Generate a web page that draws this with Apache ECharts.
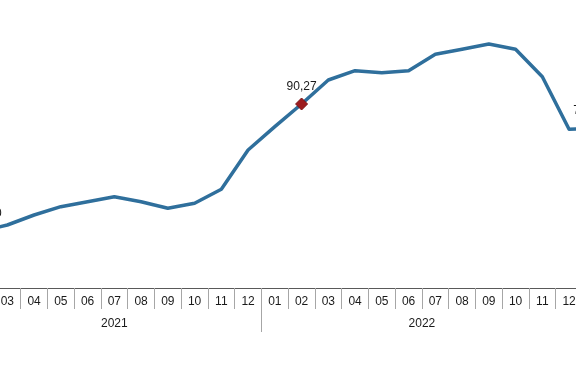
<!DOCTYPE html>
<html>
<head>
<meta charset="utf-8">
<script src="https://cdn.jsdelivr.net/npm/echarts@6/dist/echarts.min.js"></script>
<style>
html,body{margin:0;padding:0;background:#fff;}
#c{width:576px;height:375px;}
</style>
</head>
<body>
<div id="c"></div>
<script>
// Months shown on the category axis (2021-02 .. 2023-01)
const months = ['02','03','04','05','06','07','08','09','10','11','12',
                '01','02','03','04','05','06','07','08','09','10','11','12',
                '01'];
const years = ['2021','2022','2023'];
const values = [27.90, 30.91, 35.82, 39.89, 42.35, 44.80, 42.35, 39.11, 41.56, 48.43, 67.71,
                79.15, 90.27, 102.06, 106.62, 105.64, 106.62, 114.67, 117.12, 119.72, 117.12, 103.68, 77.87,
                78.26];
const highlighted = [0, 12, 23];

// year groups from month list
const starts = [0];
months.forEach((m, i) => { if (i > 0 && m === '01') starts.push(i); });
const ends = starts.slice(1).concat([months.length]);
const yearCenters = starts.map((s, k) => (s + ends[k]) / 2);
const yearBounds = starts.slice(1).concat([months.length - 1 + 0]).slice(0, starts.length - 1);

const font = 'Liberation Sans, Arial, sans-serif';
const labelOffsets = {0: [6, 0], 12: [0, 0], 23: [-7.5, 0]};

const chart = echarts.init(document.getElementById('c'), null, {renderer: 'canvas'});
chart.setOption({
  animation: false,
  backgroundColor: '#ffffff',
  grid: {left: -32.8, right: -33.2, top: 2.64, bottom: 87, containLabel: false, outerBoundsMode: 'none'},
  xAxis: [
    {
      type: 'category',
      data: months,
      boundaryGap: true,
      position: 'bottom',
      axisLine: {show: true, lineStyle: {color: '#595959', width: 1}},
      axisTick: {show: true, length: 21, interval: 0, lineStyle: {color: '#a6a6a6', width: 1}},
      axisLabel: {interval: 0, margin: 8, fontSize: 12, color: '#1a1a1a', fontFamily: font},
      splitLine: {show: false}
    },
    {
      type: 'value',
      min: 0,
      max: months.length,
      position: 'bottom',
      axisLine: {show: false},
      axisTick: {show: true, length: 44, customValues: yearBounds, lineStyle: {color: '#a6a6a6', width: 1}},
      axisLabel: {
        customValues: yearCenters, margin: 30, fontSize: 12, color: '#1a1a1a', fontFamily: font,
        formatter: v => { const k = yearCenters.indexOf(v); return k >= 0 ? years[k] : ''; }
      },
      splitLine: {show: false}
    }
  ],
  yAxis: {
    type: 'value', min: 0, max: 140,
    show: false,
    splitLine: {show: false}
  },
  series: [{
    type: 'line',
    xAxisIndex: 0,
    data: values.map((v, i) => {
      const item = {value: v};
      if (highlighted.includes(i)) {
        item.label = {
          show: true, position: 'top', distance: 5,
          offset: labelOffsets[i],
          formatter: p => p.value.toFixed(2).replace('.', ','),
          fontSize: 12, color: '#1a1a1a', fontFamily: font
        };
      }
      return item;
    }),
    symbol: 'diamond',
    symbolSize: (v, p) => highlighted.includes(p.dataIndex) ? 12 : 0,
    showSymbol: true,
    itemStyle: {color: '#9c1c1f', borderColor: '#7a1416', borderWidth: 1},
    lineStyle: {color: '#2f6f9c', width: 3.5, join: 'round', cap: 'round'},
    label: {show: false},
    clip: false,
    z: 3
  }]
});
</script>
</body>
</html>
